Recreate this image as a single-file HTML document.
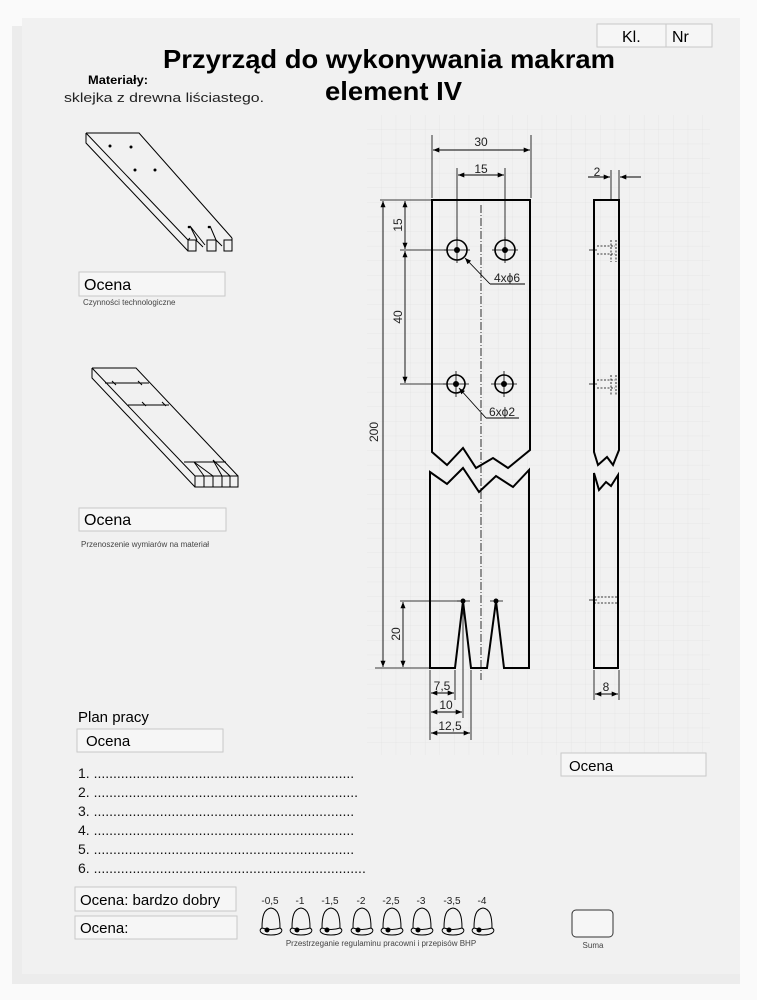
<!DOCTYPE html>
<html><head><meta charset="utf-8"><style>
html,body{margin:0;padding:0;background:#fff;width:757px;height:1000px;overflow:hidden}
svg{display:block}
text{font-family:"Liberation Sans",sans-serif}
</style></head><body>
<svg width="757" height="1000" viewBox="0 0 757 1000" xmlns="http://www.w3.org/2000/svg">
<defs>
<pattern id="g" width="14.6" height="14.6" patternUnits="userSpaceOnUse" x="367" y="115">
<path d="M14.6 0V14.6H0" fill="none" stroke="#dedede" stroke-width="0.6"/>
</pattern>
<marker id="a" viewBox="0 0 10 10" refX="10" refY="5" markerWidth="7" markerHeight="7" orient="auto-start-reverse"><path d="M0 1L10 5L0 9z" fill="#000"/></marker>
</defs>
<rect x="0" y="0" width="757" height="1000" fill="#fafafa"/>
<rect x="12" y="26" width="728" height="958" fill="#ececec"/>
<rect x="22" y="18" width="718" height="956" fill="#f1f1f1"/>
<rect x="367" y="115" width="343" height="640" fill="url(#g)"/>

<!-- header -->
<rect x="597" y="24" width="115" height="23" fill="#f6f6f6" stroke="#c8c8c8"/>
<line x1="666" y1="24" x2="666" y2="47" stroke="#c8c8c8"/>
<text x="622" y="42" font-size="16">Kl.</text>
<text x="672" y="42" font-size="16">Nr</text>
<text x="163" y="68" font-size="26" font-weight="bold" textLength="452" lengthAdjust="spacingAndGlyphs">Przyrząd do wykonywania makram</text>
<text x="325" y="100" font-size="26" font-weight="bold" textLength="137" lengthAdjust="spacingAndGlyphs">element IV</text>
<text x="88" y="84" font-size="12" font-weight="bold" textLength="60" lengthAdjust="spacingAndGlyphs">Materiały:</text>
<text x="64" y="102" font-size="13" fill="#222" textLength="200" lengthAdjust="spacingAndGlyphs">sklejka z drewna liściastego.</text>

<!-- iso 1 -->
<g fill="none" stroke="#000" stroke-width="1">
<path d="M86 133H139L232 238"/>
<path d="M86 133V143L188 251"/>
<path d="M86 133L188 240"/>
<path d="M188 240H196V251H188Z M196 240L203 247 M207 240H216V251H207Z M216 240L222 246 M224 240H232V251H224Z M232 238V251"/>
<path d="M188 240L190 238 M190 226L197 240 M210 226L216 240 M190 226L205 245"/>
</g>
<g fill="#000"><circle cx="110" cy="146" r="1.5"/><circle cx="131" cy="147" r="1.5"/><circle cx="135" cy="170" r="1.5"/><circle cx="155" cy="170" r="1.5"/><circle cx="189" cy="227" r="1.3"/><circle cx="209" cy="227" r="1.3"/></g>

<!-- iso 2 -->
<g fill="none" stroke="#000" stroke-width="1">
<path d="M92 368H136L238 476"/>
<path d="M92 368V378L195 487"/>
<path d="M92 368L195 476"/>
<path d="M195 476H238V487H195Z M204 476V487 M213 476V487 M222 476V487 M230 476V487"/>
<path d="M184 462H226 M105 383H149 M128 405H169 M112 381L116 385 M138 381L142 385 M142 402L146 406 M162 402L166 406"/>
<path d="M194 462L204 476 M194 462L213 476 M213 460L222 476 M213 460L230 476"/>
</g>

<!-- Ocena boxes left -->
<rect x="79" y="272" width="146" height="24" fill="#f6f6f6" stroke="#c8c8c8"/>
<text x="84" y="290" font-size="16">Ocena</text>
<text x="83" y="305" font-size="8" fill="#444">Czynności technologiczne</text>
<rect x="79" y="508" width="147" height="23" fill="#f6f6f6" stroke="#c8c8c8"/>
<text x="84" y="525" font-size="16">Ocena</text>
<text x="81" y="547" font-size="8" fill="#444">Przenoszenie wymiarów na materiał</text>

<!-- front view -->
<g fill="none" stroke="#000" stroke-width="2" stroke-linejoin="miter">
<path d="M432 452V200H530V450L508 468L493 458L476 468L463 448L447 465Z"/>
<path d="M430 472L447 484L463 468L479 492L496 476L513 487L529 470V668H504L496 601L487 668H471L463 601L455 668H430Z"/>
<path d="M594 200H619V450L613 465L607 457L598 465L594 452Z"/>
<path d="M594 473L599 490L606 482L611 486L618 475V668H594Z"/>
</g>
<g fill="none" stroke="#000" stroke-width="1.6">
<circle cx="457" cy="250" r="10"/><circle cx="505" cy="250" r="10"/>
<circle cx="456" cy="384" r="9"/><circle cx="504" cy="384" r="9"/>
</g>
<g fill="#000"><circle cx="457" cy="250" r="3"/><circle cx="505" cy="250" r="3"/><circle cx="456" cy="384" r="3"/><circle cx="504" cy="384" r="3"/><circle cx="463" cy="601" r="2.5"/><circle cx="496" cy="601" r="2.5"/></g>
<g stroke="#000" stroke-width="0.8" fill="none">
<path d="M481 205V680" stroke-dasharray="8 2 1 2"/>
<path d="M457 237V263 M444 250H470 M505 237V263 M492 250H518 M456 371V397 M443 384H469 M504 371V397 M491 384H517 M457 601H470 M490 601H503"/>
<path d="M432 135V198 M531 135V198 M457 168V240 M505 168V240"/>
<path d="M380 200H432 M400 250H447 M400 384H446 M400 601H460 M375 668H430"/>
<path d="M430 670V740 M455 670V700 M463 605V718 M471 670V740 M594 670V700 M619 670V700"/>
<path d="M611 170V200 M619 170V200"/>
<path d="M589 250H597 M589 384H597 M589 600H597"/>
</g>
<g stroke="#000" stroke-width="0.9" fill="none" marker-start="url(#a)" marker-end="url(#a)">
<line x1="433" y1="150" x2="530" y2="150"/>
<line x1="458" y1="175" x2="504" y2="175"/>
<line x1="383" y1="201" x2="383" y2="667"/>
<line x1="405" y1="201" x2="405" y2="249"/>
<line x1="405" y1="251" x2="405" y2="383"/>
<line x1="403" y1="602" x2="403" y2="667"/>
<line x1="431" y1="693" x2="454" y2="693"/>
<line x1="431" y1="712" x2="462" y2="712"/>
<line x1="431" y1="733" x2="470" y2="733"/>
<line x1="595" y1="694" x2="618" y2="694"/>
</g>
<g stroke="#000" stroke-width="0.9" fill="none">
<line x1="588" y1="177" x2="610" y2="177" marker-end="url(#a)"/>
<line x1="641" y1="177" x2="620" y2="177" marker-end="url(#a)"/>
<line x1="490" y1="284" x2="465" y2="258" marker-end="url(#a)"/>
<path d="M490 284H525"/>
<line x1="486" y1="418" x2="459" y2="388" marker-end="url(#a)"/>
<path d="M486 418H519"/>
</g>
<g stroke="#000" stroke-width="0.8" fill="none" stroke-dasharray="2 1.5">
<path d="M597 246H615 M597 254H615 M611 240V262 M616 240V262"/>
<path d="M597 380H615 M597 388H615 M611 375V395 M616 375V395"/>
<path d="M594 597H619 M594 603H619"/>
</g>
<g font-size="12" fill="#222" text-anchor="middle">
<text x="481" y="146">30</text>
<text x="481" y="173">15</text>
<text x="597" y="176">2</text>
<text x="507" y="282">4xϕ6</text>
<text x="502" y="416">6xϕ2</text>
<text x="442" y="690">7,5</text>
<text x="446" y="709">10</text>
<text x="450" y="730">12,5</text>
<text x="606" y="691">8</text>
<text transform="translate(402 225) rotate(-90)">15</text>
<text transform="translate(402 317) rotate(-90)">40</text>
<text transform="translate(400 634) rotate(-90)">20</text>
<text transform="translate(378 432) rotate(-90)">200</text>
</g>

<!-- plan pracy -->
<text x="78" y="722" font-size="15">Plan pracy</text>
<rect x="77" y="729" width="146" height="23" fill="#f6f6f6" stroke="#c8c8c8"/>
<text x="86" y="746" font-size="15">Ocena</text>
<g font-size="14" fill="#111">
<text x="78" y="778">1. ...................................................................</text>
<text x="78" y="797">2. ....................................................................</text>
<text x="78" y="816">3. ...................................................................</text>
<text x="78" y="835">4. ...................................................................</text>
<text x="78" y="854">5. ...................................................................</text>
<text x="78" y="873">6. ......................................................................</text>
</g>
<rect x="561" y="753" width="145" height="23" fill="#f6f6f6" stroke="#c8c8c8"/>
<text x="569" y="771" font-size="15">Ocena</text>

<!-- bottom -->
<rect x="75" y="887" width="161" height="24" fill="#f6f6f6" stroke="#c8c8c8"/>
<text x="80" y="905" font-size="15">Ocena: bardzo dobry</text>
<rect x="75" y="916" width="162" height="23" fill="#f6f6f6" stroke="#c8c8c8"/>
<text x="80" y="933" font-size="15">Ocena:</text>
<g font-size="10" text-anchor="middle" fill="#222">
<text x="270" y="904">-0,5</text><text x="300" y="904">-1</text><text x="330" y="904">-1,5</text><text x="361" y="904">-2</text><text x="391" y="904">-2,5</text><text x="421" y="904">-3</text><text x="452" y="904">-3,5</text><text x="482" y="904">-4</text>
</g>
<g fill="none" stroke="#000" stroke-width="1">
<g id="b"><path d="M262 928C262 916 264 909 271 908C278 909 280 916 280 928C284 930 282 935 271 935C260 935 258 930 262 928Z"/><path d="M262 928Q271 931 280 928"/><circle cx="267" cy="930" r="2" fill="#000"/></g>
<use href="#b" x="30"/><use href="#b" x="60"/><use href="#b" x="91"/><use href="#b" x="121"/><use href="#b" x="151"/><use href="#b" x="182"/><use href="#b" x="212"/>
</g>
<text x="381" y="946" font-size="8" fill="#444" text-anchor="middle">Przestrzeganie regulaminu pracowni i przepisów BHP</text>
<rect x="572" y="910" width="41" height="27" rx="4" fill="#f6f6f6" stroke="#333"/>
<text x="593" y="948" font-size="8" fill="#444" text-anchor="middle">Suma</text>
</svg>
</body></html>
